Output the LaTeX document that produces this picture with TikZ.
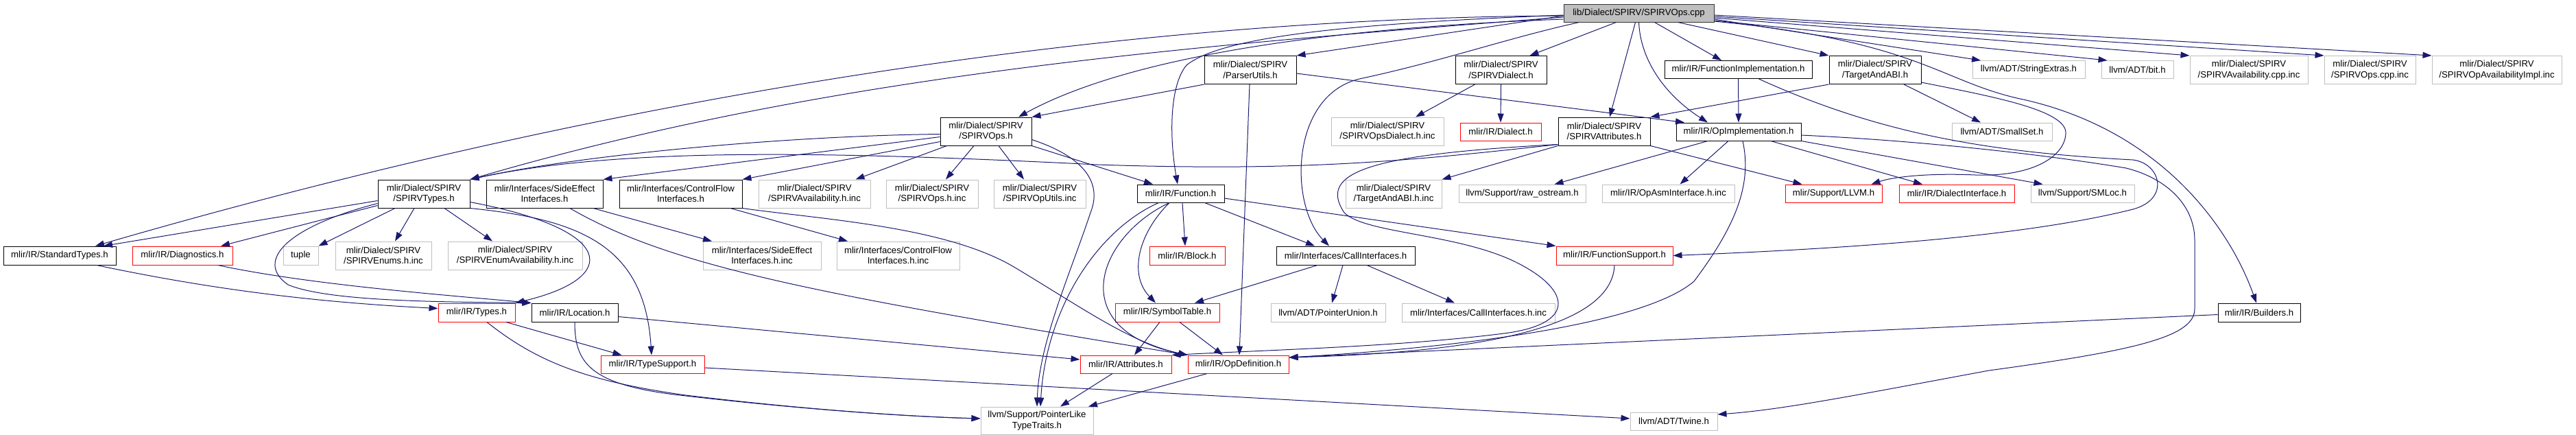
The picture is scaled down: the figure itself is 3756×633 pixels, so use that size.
\documentclass[tikz,border=0pt]{standalone}
\usepackage{fontspec}
\usepackage{tikz}
\usetikzlibrary{arrows.meta}
\newfontfamily\hdrsans{Liberation Sans}
\newcommand{\hdrfont}{\hdrsans\fontsize{13.2}{15.5}\selectfont}
\definecolor{incblue}{HTML}{191970}
\definecolor{extgray}{HTML}{BFBFBF}
\definecolor{trunred}{HTML}{FF0000}
\tikzset{
  hdr/.style={draw=black, line width=1pt, inner sep=0pt, minimum height=27, align=center, font=\hdrfont},
  tall/.style={minimum height=41},
  trunc/.style={hdr, draw=trunred},
  ext/.style={hdr, draw=extgray},
  rootfile/.style={hdr, fill=extgray, draw=black!80},
  incl/.style={draw=incblue, line width=1pt, -{Triangle[length=13pt, width=9pt]}},
}

\begin{document}
\begin{tikzpicture}[x=1pt, y=-1pt]
    \useasboundingbox (0,0) rectangle (3756,633);

    % Source file
    \node[rootfile, minimum width=219, minimum height=26] (root) at (2389.5,19) {lib/Dialect/SPIRV/SPIRVOps.cpp};

    % First level
    \node[hdr, tall, minimum width=134] (parser) at (1823,102) {mlir/Dialect/SPIRV\\/ParserUtils.h};
    \node[hdr, tall, minimum width=133] (spvdialect) at (2188.5,102) {mlir/Dialect/SPIRV\\/SPIRVDialect.h};
    \node[hdr, minimum width=215, minimum height=26] (funcimpl) at (2534.5,101.5) {mlir/IR/FunctionImplementation.h};
    \node[hdr, tall, minimum width=134] (targetabi) at (2734,102) {mlir/Dialect/SPIRV\\/TargetAndABI.h};
    \node[ext, minimum width=164, minimum height=26] (strextras) at (2958,101.5) {llvm/ADT/StringExtras.h};
    \node[ext, minimum width=105, minimum height=26] (bith) at (3116.5,101.5) {llvm/ADT/bit.h};
    \node[ext, tall, minimum width=172] (availcpp) at (3279,102) {mlir/Dialect/SPIRV\\/SPIRVAvailability.cpp.inc};
    \node[ext, tall, minimum width=133] (opscpp) at (3455.5,102) {mlir/Dialect/SPIRV\\/SPIRVOps.cpp.inc};
    \node[ext, tall, minimum width=189] (opavail) at (3640.5,102) {mlir/Dialect/SPIRV\\/SPIRVOpAvailabilityImpl.inc};

    % Second level
    \node[hdr, tall, minimum width=133] (spvops) at (1437.5,191.5) {mlir/Dialect/SPIRV\\/SPIRVOps.h};
    \node[ext, tall, minimum width=164] (opsdialectinc) at (2023,191.5) {mlir/Dialect/SPIRV\\/SPIRVOpsDialect.h.inc};
    \node[trunc, minimum width=118, minimum height=26] (dialecth) at (2188,192) {mlir/IR/Dialect.h};
    \node[hdr, tall, minimum width=134] (spvattr) at (2339,191.5) {mlir/Dialect/SPIRV\\/SPIRVAttributes.h};
    \node[hdr, minimum width=182, minimum height=26] (opimpl) at (2535,192) {mlir/IR/OpImplementation.h};
    \node[ext, minimum width=146, minimum height=26] (smallset) at (2919,192) {llvm/ADT/SmallSet.h};

    % Third level
    \node[hdr, tall, minimum width=134] (spvtypes) at (618,282.5) {mlir/Dialect/SPIRV\\/SPIRVTypes.h};
    \node[hdr, tall, minimum width=170] (sideeffect) at (794,282.5) {mlir/Interfaces/SideEffect\\Interfaces.h};
    \node[hdr, tall, minimum width=179] (controlflow) at (992.5,282.5) {mlir/Interfaces/ControlFlow\\Interfaces.h};
    \node[ext, tall, minimum width=163] (availinc) at (1187.5,282.5) {mlir/Dialect/SPIRV\\/SPIRVAvailability.h.inc};
    \node[ext, tall, minimum width=134] (opsinc) at (1359,282.5) {mlir/Dialect/SPIRV\\/SPIRVOps.h.inc};
    \node[ext, tall, minimum width=134] (oputils) at (1516,282.5) {mlir/Dialect/SPIRV\\/SPIRVOpUtils.inc};
    \node[hdr, minimum width=127, minimum height=26] (function) at (1721.5,282) {mlir/IR/Function.h};
    \node[ext, tall, minimum width=140] (targetabiinc) at (2032,282.5) {mlir/Dialect/SPIRV\\/TargetAndABI.h.inc};
    \node[ext, minimum width=185, minimum height=26] (rawostream) at (2219.5,282) {llvm/Support/raw\_ostream.h};
    \node[ext, minimum width=193, minimum height=26] (opasminc) at (2432.5,282) {mlir/IR/OpAsmInterface.h.inc};
    \node[trunc, minimum width=141, minimum height=26] (llvmh) at (2673.5,282) {mlir/Support/LLVM.h};
    \node[trunc, minimum width=168, minimum height=26] (dialectiface) at (2853,282) {mlir/IR/DialectInterface.h};
    \node[ext, minimum width=151, minimum height=26] (smloc) at (3036.5,282) {llvm/Support/SMLoc.h};

    % Fourth level
    \node[hdr, minimum width=164] (stdtypes) at (87,372.5) {mlir/IR/StandardTypes.h};
    \node[trunc, minimum width=146] (diagnostics) at (266,372.5) {mlir/IR/Diagnostics.h};
    \node[ext, minimum width=51] (tuple) at (438.5,372.5) {tuple};
    \node[ext, tall, minimum width=140] (enumsinc) at (559,372.5) {mlir/Dialect/SPIRV\\/SPIRVEnums.h.inc};
    \node[ext, tall, minimum width=196] (enumavail) at (751,372.5) {mlir/Dialect/SPIRV\\/SPIRVEnumAvailability.h.inc};
    \node[ext, tall, minimum width=172] (sideeffectinc) at (1111,372.5) {mlir/Interfaces/SideEffect\\Interfaces.h.inc};
    \node[ext, tall, minimum width=179] (controlflowinc) at (1309.5,372.5) {mlir/Interfaces/ControlFlow\\Interfaces.h.inc};
    \node[trunc, minimum width=110] (block) at (1731,372.5) {mlir/IR/Block.h};
    \node[hdr, minimum width=202] (callif) at (1962,372.5) {mlir/Interfaces/CallInterfaces.h};
    \node[trunc, minimum width=170] (funcsupport) at (2354,372.5) {mlir/IR/FunctionSupport.h};

    % Fifth level
    \node[trunc, minimum width=112] (types) at (695,455.5) {mlir/IR/Types.h};
    \node[hdr, minimum width=126] (location) at (838,455.5) {mlir/IR/Location.h};
    \node[trunc, minimum width=152] (symtable) at (1702,455.5) {mlir/IR/SymbolTable.h};
    \node[ext, minimum width=167] (ptrunion) at (1936.5,455.5) {llvm/ADT/PointerUnion.h};
    \node[ext, minimum width=223] (callifinc) at (2155.5,455.5) {mlir/Interfaces/CallInterfaces.h.inc};
    \node[hdr, minimum width=120] (builders) at (3294,455.5) {mlir/IR/Builders.h};

    % Sixth level
    \node[trunc, minimum width=151, minimum height=26] (typesupport) at (951.5,531) {mlir/IR/TypeSupport.h};
    \node[trunc, minimum width=133, minimum height=26] (attributes) at (1641.5,531) {mlir/IR/Attributes.h};
    \node[trunc, minimum width=147, minimum height=26] (opdef) at (1805.5,531) {mlir/IR/OpDefinition.h};

    % Bottom
    \node[ext, minimum width=164, minimum height=40] (ptrlike) at (1512,613) {llvm/Support/PointerLike\\TypeTraits.h};
    \node[ext, minimum width=127, minimum height=26] (twine) at (2440.5,614) {llvm/ADT/Twine.h};

    % Includes of SPIRVOps.cpp
    \draw[incl] ([yshift=-4]root.west) .. controls (1583,26) and (836,156) .. ([xshift=52]stdtypes.north);
    \draw[incl] ([yshift=-6]root.west) .. controls (1747,66) and (1218,106) .. (spvtypes.north east);
    \draw[incl] ([yshift=-9]root.west) .. controls (1950,40) and (1650,80) .. ([xshift=47.5]spvops.north);
    \draw[incl] ([yshift=-4]root.west) -- (parser.north east);
    \draw[incl] ([yshift=-3]root.west) .. controls (1950,35) and (1780,55) .. (1730,95) .. controls (1705,125) and (1705,200) .. ([xshift=-4.5]function.north);
    \draw[incl] ([xshift=23]root.south west) .. controls (2200,55) and (2100,90) .. (1982,115) .. controls (1880,140) and (1880,300) .. ([xshift=-24]callif.north);
    \draw[incl] ([xshift=77]root.south west) -- ([xshift=42]spvdialect.north);
    \draw[incl] ([xshift=105]root.south west) -- ([xshift=8]spvattr.north);
    \draw[incl] ([xshift=110]root.south west) .. controls (2392,90) and (2430,140) .. ([xshift=-45]opimpl.north);
    \draw[incl] ([xshift=133]root.south west) -- ([xshift=-24.5]funcimpl.north);
    \draw[incl] ([xshift=167]root.south west) -- (targetabi.north west);
    \draw[incl] ([yshift=-9]root.east) -- ([xshift=-70]strextras.north);
    \draw[incl] ([yshift=-11]root.east) -- ([xshift=-44]bith.north);
    \draw[incl] ([yshift=-7]root.east) -- (availcpp.north west);
    \draw[incl] ([yshift=-5]root.east) -- (opscpp.north west);
    \draw[incl] ([yshift=-3]root.east) -- (opavail.north west);
    \draw[incl] ([yshift=-12]root.east) .. controls (2800,60) and (2830,120) .. (2950,145) .. controls (3150,190) and (3250,330) .. ([xshift=-4]builders.north);

    % ParserUtils.h and SPIRVDialect.h
    \draw[incl] (parser.south west) -- (spvops.north east);
    \draw[incl] ([xshift=-1]parser.south) -- ([xshift=1.5]opdef.north);
    \draw[incl] ([yshift=-5]parser.east) -- ([xshift=-79]opimpl.north);
    \draw[incl] ([xshift=-38]spvdialect.south) -- ([xshift=41]opsdialectinc.north);
    \draw[incl] (spvdialect.south) -- (dialecth.north);

    % SPIRVAttributes.h
    \draw[incl] ([yshift=2]spvattr.south west) .. controls (2050,235) and (1900,250) .. (1600,240) .. controls (1200,220) and (900,215) .. (spvtypes.north east);
    \draw[incl] (spvattr.south west) -- (targetabiinc.north east);
    \draw[incl] ([yshift=2]spvattr.south west) .. controls (2000,225) and (1920,250) .. (1960,310) .. controls (1990,340) and (2120,340) .. (2206,380) .. controls (2290,420) and (2300,470) .. (2200,485) .. controls (2050,505) and (1850,510) .. (attributes.north east);
    \draw[incl] (spvattr.south east) -- ([xshift=-46]llvmh.north);

    % OpImplementation.h and FunctionImplementation.h
    \draw[incl] ([xshift=-45]opimpl.south) -- ([xshift=47]rawostream.north);
    \draw[incl] ([xshift=-15]opimpl.south) -- ([xshift=17]opasminc.north);
    \draw[incl] ([xshift=6]opimpl.south) .. controls (2555,270) and (2530,330) .. (2470,410) .. controls (2400,470) and (2150,505) .. ([yshift=10]opdef.east);
    \draw[incl] ([xshift=47]opimpl.south) -- ([xshift=-50]dialectiface.north);
    \draw[incl] (opimpl.south east) -- ([xshift=-58]smloc.north);
    \draw[incl] ([yshift=-5]opimpl.east) .. controls (2800,205) and (2980,225) .. (3100,245) .. controls (3160,260) and (3200,300) .. (3200,350) -- (3200,450) .. controls (3200,490) and (3120,510) .. (2900,540) .. controls (2700,577) and (2600,597) .. ([yshift=10]twine.east);
    \draw[incl] (funcimpl.south) -- (opimpl.north);
    \draw[incl] ([xshift=30]funcimpl.south) .. controls (2740,195) and (2900,222) .. (3110,233) .. controls (3150,238) and (3165,290) .. (3110,305) .. controls (2950,345) and (2700,362) .. (funcsupport.east);

    % TargetAndABI.h
    \draw[incl] (targetabi.south west) -- (spvattr.north east);
    \draw[incl] ([xshift=42]targetabi.south) -- ([xshift=-31]smallset.north);
    \draw[incl] ([yshift=3]targetabi.south east) .. controls (2900,140) and (3015,160) .. (3012,195) .. controls (3010,230) and (2960,258) .. (2880,255) .. controls (2810,252) and (2760,258) .. ([xshift=55]llvmh.north);

    % Function.h
    \draw[incl] ([xshift=2.5]function.south) -- ([xshift=-3]block.north);
    \draw[incl] ([xshift=-16.5]function.south) .. controls (1660,340) and (1645,400) .. ([xshift=-17]symtable.north);
    \draw[incl] ([xshift=-16.5]function.south) .. controls (1600,345) and (1550,480) .. (opdef.north west);
    \draw[incl] ([xshift=-32]function.south) .. controls (1600,335) and (1525,450) .. ([xshift=5]ptrlike.north);
    \draw[incl] ([xshift=35]function.south) -- ([xshift=-45]callif.north);
    \draw[incl] ([yshift=-7]function.east) -- (funcsupport.north west);

    % CallInterfaces.h, SymbolTable.h
    \draw[incl] ([xshift=-41]callif.south) -- ([xshift=40]symtable.north);
    \draw[incl] ([xshift=-4]callif.south) -- ([xshift=5.5]ptrunion.north);
    \draw[incl] ([xshift=31]callif.south) -- ([xshift=-34.5]callifinc.north);
    \draw[incl] ([xshift=-11]symtable.south) -- ([xshift=12.5]attributes.north);
    \draw[incl] ([xshift=18]symtable.south) -- ([xshift=-22.5]opdef.north);
    \draw[incl] ([xshift=-19.5]attributes.south) -- ([xshift=34]ptrlike.north);
    \draw[incl] ([xshift=-45.5]opdef.south) -- ([xshift=75]ptrlike.north);
    \draw[incl] (funcsupport.south) .. controls (2350,490) and (2100,515) .. ([yshift=10]opdef.east);
    \draw[incl] ([yshift=-3]builders.west) -- ([yshift=10]opdef.east);

    % SPIRVOps.h
    \draw[incl] ([yshift=-4]spvops.west) .. controls (1150,198) and (850,225) .. (spvtypes.north east);
    \draw[incl] ([yshift=-8]spvops.west) -- (sideeffect.north east);
    \draw[incl] ([yshift=-15]spvops.west) -- (controlflow.north east);
    \draw[incl] ([xshift=10]spvops.south west) -- ([xshift=60]availinc.north);
    \draw[incl] ([xshift=-17.5]spvops.south) -- ([xshift=20]opsinc.north);
    \draw[incl] ([xshift=18.5]spvops.south) -- ([xshift=-23]oputils.north);
    \draw[incl] (spvops.south east) -- ([xshift=-40.5]function.north);
    \draw[incl] ([yshift=-12]spvops.east) .. controls (1570,225) and (1610,260) .. (1590,310) .. controls (1560,400) and (1515,500) .. (ptrlike.north);

    % Interfaces
    \draw[incl] ([xshift=71]sideeffect.south) -- ([xshift=-73]sideeffectinc.north);
    \draw[incl] ([xshift=37]sideeffect.south) .. controls (980,390) and (1200,430) .. (opdef.north west);
    \draw[incl] ([xshift=72.5]controlflow.south) -- ([xshift=-73.5]controlflowinc.north);
    \draw[incl] (controlflow.south east) .. controls (1200,320) and (1380,330) .. (1480,390) .. controls (1580,450) and (1650,500) .. (opdef.north west);

    % SPIRVTypes.h
    \draw[incl] ([yshift=-10]spvtypes.west) -- ([xshift=64]stdtypes.north);
    \draw[incl] ([yshift=-17]spvtypes.west) -- ([xshift=56]diagnostics.north);
    \draw[incl] ([xshift=-42]spvtypes.south) -- (tuple.north east);
    \draw[incl] ([xshift=-14]spvtypes.south) -- ([xshift=17]enumsinc.north);
    \draw[incl] ([xshift=30]spvtypes.south) -- ([xshift=-33]enumavail.north);
    \draw[incl] ([yshift=-14]spvtypes.west) .. controls (420,330) and (370,380) .. (420,415) .. controls (480,440) and (650,440) .. (location.north west);
    \draw[incl] ([yshift=-12]spvtypes.east) .. controls (900,335) and (905,405) .. (types.north east);
    \draw[incl] (spvtypes.south east) .. controls (850,320) and (940,360) .. ([xshift=-1.5]typesupport.north);

    % Lower IR headers
    \draw[incl] ([xshift=54]stdtypes.south) .. controls (300,420) and (450,440) .. ([yshift=6]types.west);
    \draw[incl] ([xshift=52]diagnostics.south) .. controls (450,415) and (650,430) .. (location.north west);
    \draw[incl] ([xshift=43]types.south) -- ([xshift=-45]typesupport.north);
    \draw[incl] ([xshift=15]types.south) .. controls (780,525) and (850,555) .. (1000,576) .. controls (1200,600) and (1350,608) .. ([yshift=3]ptrlike.west);
    \draw[incl] (location.south) .. controls (838,530) and (860,562) .. (1000,577) .. controls (1200,600) and (1350,608) .. ([yshift=3]ptrlike.west);
    \draw[incl] ([yshift=-6]location.east) -- ([yshift=7]attributes.west);
    \draw[incl] ([yshift=-5]typesupport.east) -- ([yshift=4]twine.west);
\end{tikzpicture}
\end{document}
